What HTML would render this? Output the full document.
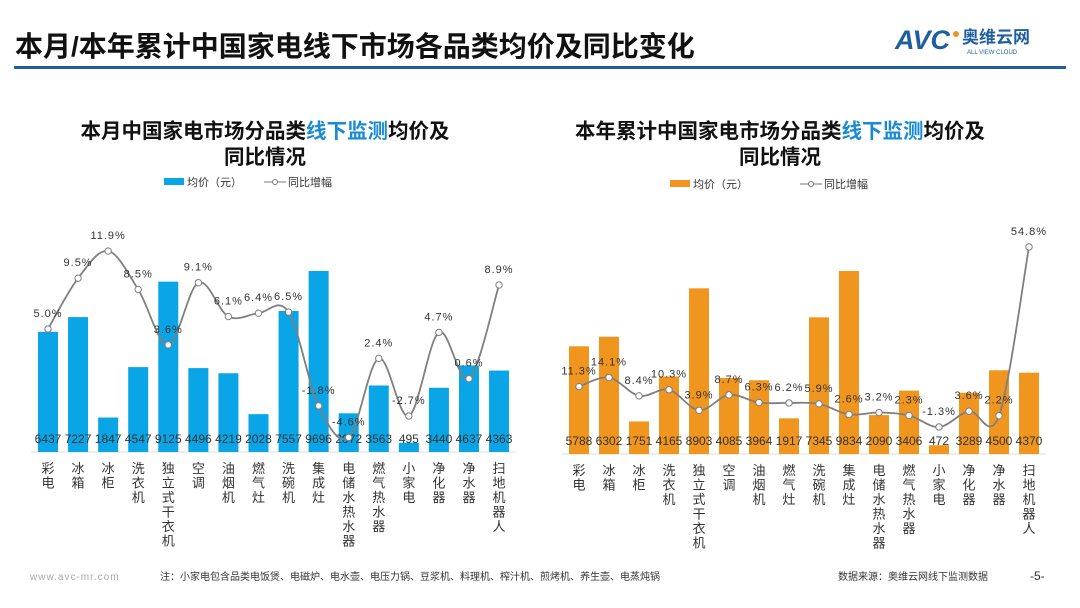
<!DOCTYPE html>
<html><head><meta charset="utf-8">
<style>
body{margin:0;width:1080px;height:608px;background:#fff;overflow:hidden;font-family:"Liberation Sans","Noto Sans CJK SC",sans-serif;}
svg{position:absolute;left:0;top:0}
</style></head>
<body>
<svg id="s" width="1080" height="608" viewBox="0 0 1080 608">
<text x="15" y="56" font-size="28" font-weight="bold" fill="#111" font-family="Liberation Sans,Noto Sans CJK SC,sans-serif">本月/本年累计中国家电线下市场各品类均价及同比变化</text>
<rect x="14" y="66" width="1052" height="3" fill="#1f5fa0"/>
<g>
<text x="895" y="49" font-size="27" font-weight="bold" font-style="italic" fill="#1f5fa0" font-family="Liberation Sans,sans-serif">AVC</text>
<circle cx="956" cy="34" r="3" fill="#f0961e"/>
<text x="962" y="43" font-size="17" font-weight="bold" fill="#1f5fa0" font-family="Noto Sans CJK SC,sans-serif">奥维云网</text>
<text x="967" y="54" font-size="6" fill="#1f5fa0" font-family="Liberation Sans,sans-serif">ALL VIEW CLOUD</text>
</g>
<g font-family="Liberation Sans,Noto Sans CJK SC,sans-serif" font-weight="bold" font-size="20.5" fill="#111" text-anchor="middle">
<text x="265" y="138">本月中国家电市场分品类<tspan fill="#1a8ad4">线下监测</tspan>均价及</text>
<text x="265" y="164">同比情况</text>
<text x="780" y="138">本年累计中国家电市场分品类<tspan fill="#1a8ad4">线下监测</tspan>均价及</text>
<text x="780" y="164">同比情况</text>
</g>
<g font-size="11" fill="#333" font-family="Liberation Sans,Noto Sans CJK SC,sans-serif">
<g><rect x="164" y="178" width="20" height="7" fill="#0aa5e6"/><text x="187" y="186">均价（元）</text></g>
<g><line x1="264" y1="182" x2="286" y2="182" stroke="#777"/><circle cx="275" cy="182" r="2.5" fill="#fff" stroke="#777"/><text x="288" y="186">同比增幅</text></g>
<g><rect x="670" y="180" width="20" height="7" fill="#f0961e"/><text x="693" y="188">均价（元）</text></g>
<g><line x1="800" y1="184" x2="822" y2="184" stroke="#777"/><circle cx="811" cy="184" r="2.5" fill="#fff" stroke="#777"/><text x="824" y="188">同比增幅</text></g>
</g>
<g id="left"></g>
<g id="right"></g>
<g font-size="10" font-family="Liberation Sans,Noto Sans CJK SC,sans-serif" fill="#333">
<text x="30" y="580" fill="#aaa" letter-spacing="1">www.avc-mr.com</text>
<text x="160" y="580">注：小家电包含品类电饭煲、电磁炉、电水壶、电压力锅、豆浆机、料理机、榨汁机、煎烤机、养生壶、电蒸炖锅</text>
<text x="838" y="580">数据来源：奥维云网线下监测数据</text>
<text x="1030" y="580" font-size="12">-5-</text>
</g>
</svg>
<script>
const categories=["彩电","冰箱","冰柜","洗衣机","独立式干衣机","空调","油烟机","燃气灶","洗碗机","集成灶","电储水热水器","燃气热水器","小家电","净化器","净水器","扫地机器人"];
const monthPrice=[6437,7227,1847,4547,9125,4496,4219,2028,7557,9696,2072,3563,495,3440,4637,4363];
const monthYoy=[5.0,9.5,11.9,8.5,3.6,9.1,6.1,6.4,6.5,-1.8,-4.6,2.4,-2.7,4.7,0.6,8.9];
const ytdPrice=[5788,6302,1751,4165,8903,4085,3964,1917,7345,9834,2090,3406,472,3289,4500,4370];
const ytdYoy=[11.3,14.1,8.4,10.3,3.9,8.7,6.3,6.2,5.9,2.6,3.2,2.3,-1.3,3.6,2.2,54.8];
const NS="http://www.w3.org/2000/svg";
function mk(p,t,a){const e=document.createElementNS(NS,t);for(const k in a)e.setAttribute(k,a[k]);p.appendChild(e);return e;}
function draw(g,cfg,prices,yoy){
  const x=i=>cfg.x0+i*cfg.step;
  const yP=v=>cfg.base-v*cfg.pScale;
  const yL=v=>cfg.zero-v*cfg.lScale;
  const ax=mk(g,'line',{x1:x(0)-17,x2:x(categories.length-1)+17,y1:cfg.base,y2:cfg.base,stroke:'#ddd'});
  
  
  prices.forEach((v,i)=>{
    const r=mk(g,'rect',{x:x(i)-10,y:yP(v),width:20,height:cfg.base-yP(v),fill:cfg.color});
    
    
  });
  prices.forEach((v,i)=>{
    const t=mk(g,'text',{x:x(i),y:cfg.base-9,'text-anchor':'middle','font-size':12,fill:'#333','font-family':'Liberation Sans,sans-serif'});
    t.textContent=v;
    
    
  });
  categories.forEach((c,i)=>{
    const t=mk(g,'text',{x:x(i),'text-anchor':'middle','font-size':13,fill:'#333','font-family':'Noto Sans CJK SC,sans-serif'});
    
    
    [...c].forEach((ch,k)=>{const s=mk(t,'tspan',{x:x(i),y:cfg.base+21+k*14.5});s.textContent=ch;});
  });
  const pts=yoy.map((v,i)=>[x(i),yL(v)]);
  let d='M'+pts[0][0]+','+pts[0][1];
  for(let i=0;i<pts.length-1;i++){
    const p0=pts[Math.max(0,i-1)],p1=pts[i],p2=pts[i+1],p3=pts[Math.min(pts.length-1,i+2)];
    const c1=[p1[0]+(p2[0]-p0[0])/6,p1[1]+(p2[1]-p0[1])/6],c2=[p2[0]-(p3[0]-p1[0])/6,p2[1]-(p3[1]-p1[1])/6];
    d+=' C'+c1+' '+c2+' '+p2;
  }
  const pl=mk(g,'path',{d:d,fill:'none',stroke:'#7f7f7f','stroke-width':1.8});
  
  
  pts.forEach((p,i)=>{
    const c=mk(g,'circle',{cx:p[0],cy:p[1],r:3.2,fill:'#fff',stroke:'#7f7f7f','stroke-width':1});
    
    
    const t=mk(g,'text',{x:p[0],y:p[1]-12,'text-anchor':'middle','font-size':11,fill:'#333','letter-spacing':1,'font-family':'Liberation Sans,sans-serif'});
    t.textContent=yoy[i].toFixed(1)+'%';
    
    
  });
}
draw(document.getElementById('left'),{x0:48,step:30.07,base:452,pScale:181/9696,zero:385.5,lScale:11.3,color:'#0aa5e6'},monthPrice,monthYoy);
draw(document.getElementById('right'),{x0:579,step:30,base:454,pScale:183/9834,zero:422.8,lScale:3.21,color:'#f0961e'},ytdPrice,ytdYoy);
</script>
</body></html>
